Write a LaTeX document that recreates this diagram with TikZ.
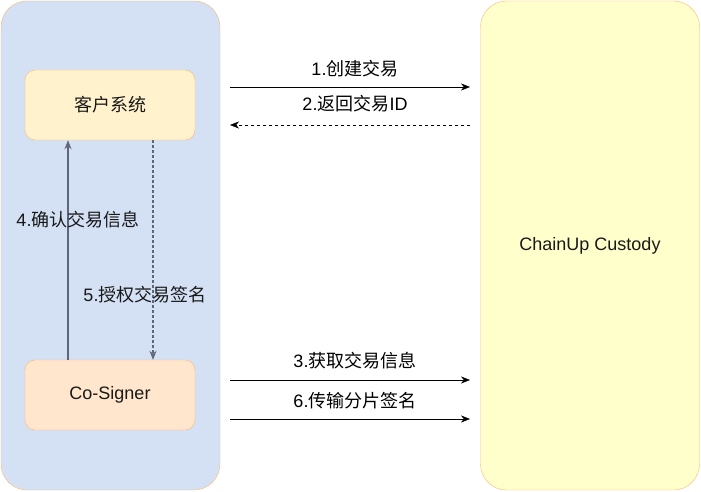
\documentclass[tikz,border=0pt]{standalone}
\usepackage{fontspec}
\setmainfont{Liberation Sans}
\newfontfamily\cjk{Noto Sans CJK SC}
\usepackage{tikz}
\usetikzlibrary{positioning,arrows.meta}
\definecolor{ClientBlue}{HTML}{D4E1F5}
\definecolor{CustodyYellow}{HTML}{FFFFCC}
\definecolor{SystemYellow}{HTML}{FFF2CC}
\definecolor{SignerOrange}{HTML}{FFE6CC}
\definecolor{EdgeOrange}{HTML}{FFB570}
\definecolor{LinkGray}{HTML}{60667A}
\newcommand*{\xLeft}{230}
\newcommand*{\xRight}{470}

\tikzset{
    container/.style={draw=EdgeOrange, rounded corners=26pt, inner sep=0pt,
        minimum width=219pt, minimum height=489pt},
    party/.style={draw=EdgeOrange, rounded corners=10pt,
        minimum width=170pt, minimum height=70pt},
    call/.style={-{Stealth[length=9pt,width=7pt]}, black},
    reply/.style={call, dash pattern=on 3pt off 3pt},
    confirm/.style={-{Stealth[length=9pt,width=7pt]}, LinkGray, line width=1.3pt},
    authorize/.style={confirm, line width=1.2pt, dash pattern=on 3pt off 2pt},
    steplabel/.style={text=black!90},
}

\begin{document}
\begin{tikzpicture}[x=1pt, y=-1pt, font=\fontsize{18pt}{21pt}\selectfont, text=black!90]
    \useasboundingbox (0,0) rectangle (701,492);

    % the two sides
    \node [container, fill=ClientBlue] (client) at (110.5,245.5) {};
    \node [container, fill=CustodyYellow] (custody) at (590,245.5) {ChainUp Custody};

    \node [party, fill=SystemYellow] (system) at (110,105) {\cjk 客户系统};
    \node [party, fill=SignerOrange] (signer) at (110,395) {Co-Signer};

    % free ends of the calls between the sides
    \foreach \n/\y in {create/87,back/125,fetch/380,send/419} {
        \coordinate (\n L) at (\xLeft,\y);
        \coordinate (\n R) at (\xRight,\y);
    }

    \draw [call] (createL) -- node [midway, above=6pt, xshift=5pt] {1.{\cjk 创建交易}} (createR);
    \draw [reply] (backR) -- node [midway, above=9pt, xshift=5pt] {2.{\cjk 返回交易}ID} (backL);
    \draw [call] (fetchL) -- node [midway, above=7pt, xshift=5pt] {3.{\cjk 获取交易信息}} (fetchR);
    \draw [call] (sendL) -- node [midway, above=6pt, xshift=5pt] {6.{\cjk 传输分片签名}} (sendR);

    % inside the client side
    \draw [confirm] ([xshift=-42pt]signer.north) -- node [steplabel, pos=0.64, xshift=10pt] {4.{\cjk 确认交易信息}} ([xshift=-42pt]system.south);
    \draw [authorize] ([xshift=43pt]system.south) -- node [steplabel, pos=0.705, xshift=-8pt] {5.{\cjk 授权交易签名}} ([xshift=43pt]signer.north);
\end{tikzpicture}
\end{document}
